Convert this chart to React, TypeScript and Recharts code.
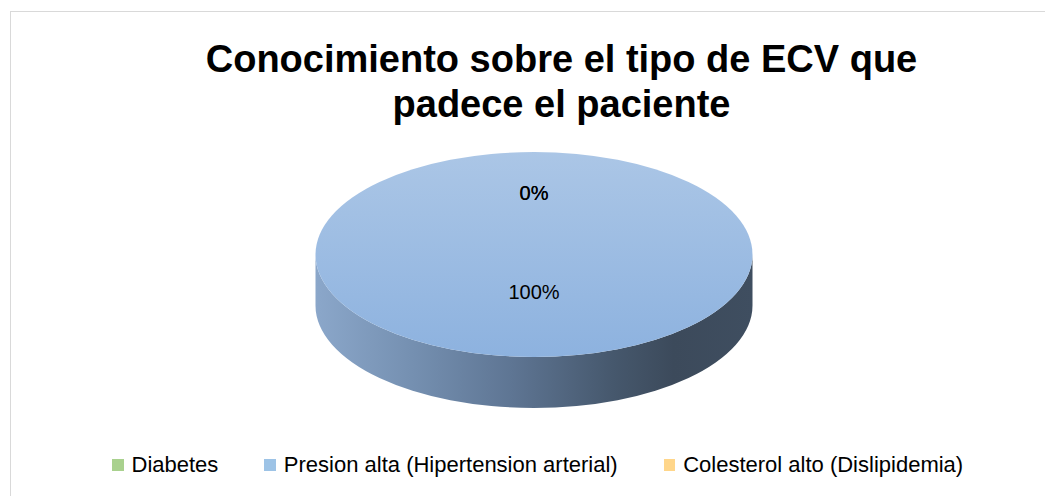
import React from 'react';
import { PieChart, Pie, Cell, Legend } from 'recharts';

const categories = ['Diabetes', 'Presion alta (Hipertension arterial)', 'Colesterol alto (Dislipidemia)'];
const values = [0, 100, 0];
const colors = ['#a9d18e', '#9dc3e6', '#ffd68a'];
const titleLines = ['Conocimiento sobre el tipo de ECV que', 'padece el paciente'];

const data = categories.map((name, i) => ({ name, value: values[i], color: colors[i] }));

const FONT = "'Liberation Sans', Arial, sans-serif";
const TILT = 0.469;
const DEPTH = 51;

const faceStops: Record<number, [string, string]> = {
  0: ['#b5d8a0', '#98c47c'],
  1: ['#abc6e6', '#8db2df'],
  2: ['#ffdf9e', '#f7cd72'],
};

const Sector3D = (props: any) => {
  const { cx, cy, outerRadius, startAngle, endAngle, payload } = props;
  const span = Math.abs(endAngle - startAngle);
  if (!(span > 0.01)) return <g />;
  const idx = Math.max(0, categories.indexOf(payload?.name));
  const rx = outerRadius;
  const ry = outerRadius * TILT;
  const fid = `face-${idx}`;
  const sid = `side-${idx}`;
  const pt = (a: number, dy = 0) => {
    const r = (a * Math.PI) / 180;
    return [cx + rx * Math.cos(r), cy - ry * Math.sin(r) + dy];
  };
  let facePath: string;
  let sidePaths: string[] = [];
  if (span >= 359.99) {
    facePath = `M ${cx - rx} ${cy} A ${rx} ${ry} 0 1 1 ${cx + rx} ${cy} A ${rx} ${ry} 0 1 1 ${cx - rx} ${cy} Z`;
    sidePaths = [
      `M ${cx - rx} ${cy} A ${rx} ${ry} 0 0 0 ${cx + rx} ${cy} L ${cx + rx} ${cy + DEPTH} A ${rx} ${ry} 0 0 1 ${cx - rx} ${cy + DEPTH} Z`,
    ];
  } else {
    const [sx, sy] = pt(startAngle);
    const [ex, ey] = pt(endAngle);
    const large = span > 180 ? 1 : 0;
    const sweep = endAngle < startAngle ? 1 : 0;
    facePath = `M ${cx} ${cy} L ${sx} ${sy} A ${rx} ${ry} 0 ${large} ${sweep} ${ex} ${ey} Z`;
    const dir = endAngle < startAngle ? -1 : 1;
    let run: number[] = [];
    const flush = () => {
      if (run.length > 1) {
        const top = run.map((a) => pt(a));
        const bot = run.slice().reverse().map((a) => pt(a, DEPTH));
        sidePaths.push('M ' + top.concat(bot).map((p) => `${p[0]} ${p[1]}`).join(' L ') + ' Z');
      }
      run = [];
    };
    for (let k = 0; k <= span; k += 1) {
      const a = startAngle + dir * Math.min(k, span);
      if (Math.sin((a * Math.PI) / 180) <= 0) run.push(a);
      else flush();
    }
    flush();
  }
  const [c1, c2] = faceStops[idx];
  return (
    <g>
      <defs>
        <linearGradient id={fid} x1="0" y1="0" x2="0" y2="1">
          <stop offset="0" stopColor={c1} />
          <stop offset="1" stopColor={c2} />
        </linearGradient>
        <linearGradient id={sid} gradientUnits="userSpaceOnUse" x1={cx - rx} y1={0} x2={cx + rx} y2={0}>
          <stop offset="0" stopColor="#8ba7ca" />
          <stop offset="0.22" stopColor="#7590b1" />
          <stop offset="0.45" stopColor="#5e7593" />
          <stop offset="0.68" stopColor="#46586d" />
          <stop offset="0.82" stopColor="#3c4a5b" />
          <stop offset="1" stopColor="#3f4e60" />
        </linearGradient>
      </defs>
      {sidePaths.map((d, i) => (
        <path key={i} d={d} fill={`url(#${sid})`} stroke="none" />
      ))}
      <path d={facePath} fill={`url(#${fid})`} stroke="none" />
    </g>
  );
};

const renderLabel = (p: any) => {
  const { cx, cy, midAngle, outerRadius, percent } = p;
  const ry = outerRadius * TILT;
  const k = percent >= 0.999 ? 0.366 : 0.6;
  const rad = (midAngle * Math.PI) / 180;
  const x = cx + outerRadius * k * Math.cos(rad);
  const y = cy - ry * k * Math.sin(rad);
  return (
    <text x={x} y={y + 7.2} textAnchor="middle" fontSize={20} fontFamily={FONT} fill="#000">
      {`${Math.round(percent * 100)}%`}
    </text>
  );
};

const renderLegend = (props: any) => {
  const payload = (props.payload || [])
    .slice()
    .sort((a: any, b: any) => categories.indexOf(a.value) - categories.indexOf(b.value));
  return (
    <div style={{ display: 'flex', alignItems: 'center', height: 24, whiteSpace: 'nowrap' }}>
      {payload.map((e: any, i: number) => (
        <div key={i} style={{ display: 'flex', alignItems: 'center', marginRight: 46 }}>
          <span
            style={{ display: 'inline-block', width: 11.5, height: 11.5, background: e.color, marginRight: 8 }}
          />
          <span style={{ fontFamily: FONT, fontSize: 22, lineHeight: '24px', color: '#000' }}>{e.value}</span>
        </div>
      ))}
    </div>
  );
};

export default function App() {
  return (
    <div
      style={{
        position: 'absolute',
        left: 0,
        top: 0,
        width: 1045,
        height: 496,
        overflow: 'hidden',
        background: '#fff',
      }}
    >
      <div
        style={{
          position: 'absolute',
          left: 10,
          top: 11,
          width: 1100,
          height: 600,
          border: '1px solid #d9d9d9',
          borderRight: 'none',
          borderBottom: 'none',
        }}
      />
      <div style={{ position: 'absolute', left: 0, top: 0 }}>
        <PieChart width={1045} height={496} margin={{ top: 0, right: 0, bottom: 0, left: 0 }}>
          <Pie
            data={data}
            dataKey="value"
            nameKey="name"
            cx={534}
            cy={254.5}
            outerRadius={218.5}
            startAngle={90}
            endAngle={-270}
            stroke="none"
            labelLine={false}
            label={renderLabel}
            shape={Sector3D}
            isAnimationActive={false}
          >
            {data.map((d, i) => (
              <Cell key={i} fill={d.color} />
            ))}
          </Pie>
          <Legend
            verticalAlign="bottom"
            content={renderLegend}
            wrapperStyle={{ position: 'absolute', left: 112, top: 453, bottom: 'auto', width: 'auto', height: 24 }}
          />
        </PieChart>
      </div>
      <div
        style={{
          position: 'absolute',
          left: 61.5,
          top: 36.8,
          width: 1000,
          textAlign: 'center',
          fontFamily: FONT,
          fontWeight: 'bold',
          fontSize: 38,
          lineHeight: '45.5px',
          color: '#000',
        }}
      >
        {titleLines.map((t, i) => (
          <div key={i}>{t}</div>
        ))}
      </div>
    </div>
  );
}
